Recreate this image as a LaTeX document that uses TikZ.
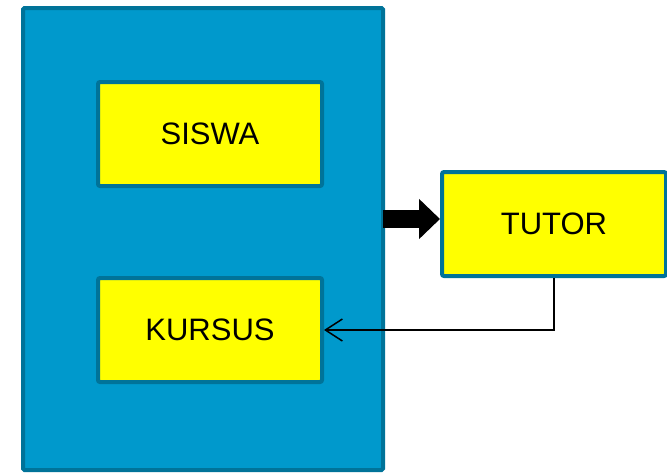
\documentclass[tikz,border=0pt]{standalone}
\usepackage{fontspec}
\setmainfont{Liberation Sans}
\usepackage{tikz}
\usetikzlibrary{positioning,arrows.meta}
\definecolor{panelblue}{HTML}{0099CC}
\definecolor{paneledge}{HTML}{007399}
\definecolor{boxyellow}{HTML}{FFFF00}
\tikzstyle{panel} = [rectangle, draw=paneledge, fill=panelblue, line width=4pt, inner sep=0pt, rounded corners=1.5pt]
\tikzstyle{entity} = [rectangle, draw=paneledge, fill=boxyellow, line width=4pt, inner sep=0pt, rounded corners=2pt, text centered, minimum width=224pt, minimum height=104pt, font=\fontsize{31}{37}\selectfont]
\tikzstyle{bigedge} = [draw, line width=18pt, -{Triangle[length=21pt,width=39pt]}]
\tikzstyle{thinedge} = [draw, line width=1.5pt, -{Straight Barb[length=17pt,width=22pt]}]

\begin{document}
\begin{tikzpicture}[x=1pt, y=1pt]
	\useasboundingbox (0,0) rectangle (667,-472);

	% place nodes
	\node [panel, minimum width=360pt, minimum height=462pt] (P0) at (203,-239) {};
	\node [entity] (S1) at (210,-134) {SISWA};
	\node [entity, below=88pt of S1] (K1) {KURSUS};
	\node [entity] (T1) at (554,-224) {TUTOR};
	\coordinate (A0) at (383,-219);

	% draw edges
	\path [bigedge]  (A0) -- (A0 -| T1.west);
	\path [thinedge] (T1.south) |- (K1.east);
\end{tikzpicture}
\end{document}
